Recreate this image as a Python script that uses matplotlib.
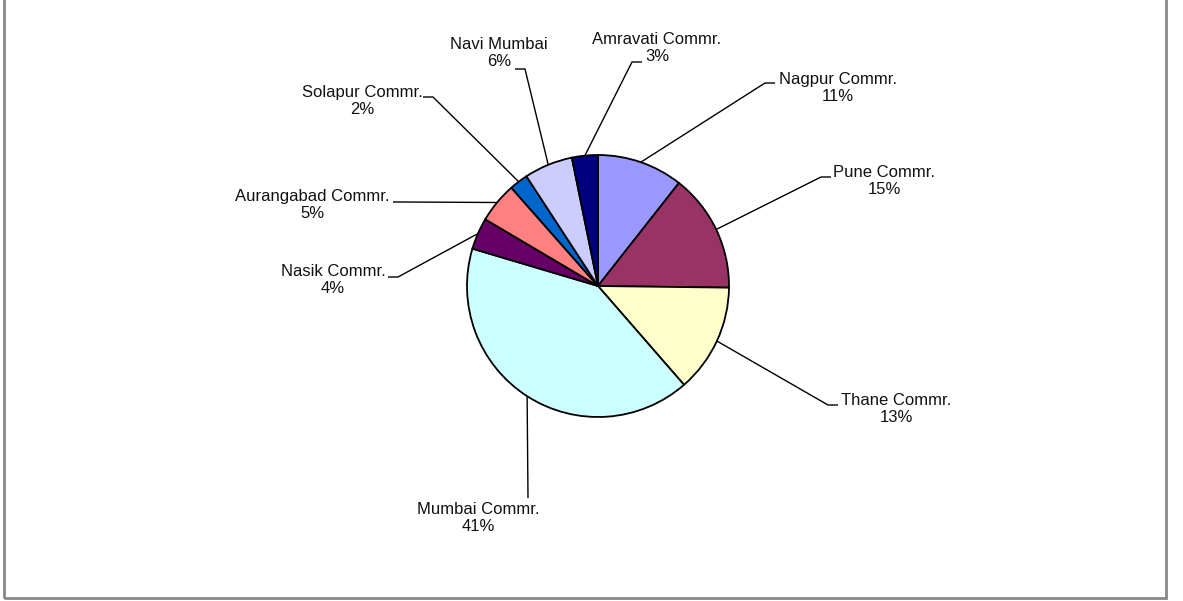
import numpy as np
import matplotlib
matplotlib.use('Agg')
import matplotlib.pyplot as plt
from matplotlib.patches import Rectangle

plt.rcParams['font.family'] = ['Liberation Sans', 'DejaVu Sans']

# data (percent shares)
names = ['Nagpur Commr.', 'Pune Commr.', 'Thane Commr.', 'Mumbai Commr.', 'Nasik Commr.',
         'Aurangabad Commr.', 'Solapur Commr.', 'Navi Mumbai', 'Amravati Commr.']
shares = [10.6, 14.6, 13.4, 41.0, 3.9, 5.0, 2.3, 6.0, 3.2]
colors = ['#9999FF', '#993366', '#FFFFCC', '#CCFFFF', '#660066',
          '#FF8080', '#0066CC', '#CCCCFF', '#000080']

W, H = 1183, 601
cx, cy, R = 598, H - 286, 131

# label layout (pixel coords, y measured from top)
text_pos = [(838, 88), (884, 181), (896, 409), (478, 518), (333, 280),
            (312, 205), (362, 101), (499, 53), (657, 48)]
# leader: (x at text side, x at bend, y)
ticks = [(775, 765, 83), (831, 821, 177), (838, 828, 405), (528, 528, 498), (388, 398, 277),
         (393, 403, 202), (423, 433, 97), (515, 525, 69), (642, 632, 62)]

fig = plt.figure(figsize=(W / 100, H / 100), dpi=100)
ax = fig.add_axes([0, 0, 1, 1])

wedges, _ = ax.pie(shares, colors=colors, startangle=90, counterclock=False,
                   center=(cx, cy), radius=R, frame=True,
                   wedgeprops=dict(edgecolor='black', linewidth=1.3))
ax.set_xlim(0, W)
ax.set_ylim(0, H)
ax.set_aspect('equal')
ax.axis('off')

total = float(sum(shares))
cum = np.cumsum([0] + shares[:-1])
for i, name in enumerate(names):
    f = (cum[i] + shares[i] / 2.0) / total
    th = np.deg2rad(90 - 360 * f)
    ex, ey = cx + R * np.cos(th), cy + R * np.sin(th)
    x0, x1, ty = ticks[i]
    ax.plot([ex, x1, x0], [ey, H - ty, H - ty], color='black', lw=1.0, solid_capstyle='butt')
    tx, tyy = text_pos[i]
    ax.text(tx, H - tyy, '%s\n%.0f%%' % (name, shares[i] / total * 100),
            ha='center', va='center', fontsize=12, linespacing=1.1, color='#111111')

# chart area border (top edge is cut off in the original)
fig.patches.append(Rectangle((4 / W, 3 / H), (1166 - 4) / W, 1.1,
                             transform=fig.transFigure, fill=False,
                             edgecolor='#888888', linewidth=2))

fig.savefig('out.png', dpi=100)
